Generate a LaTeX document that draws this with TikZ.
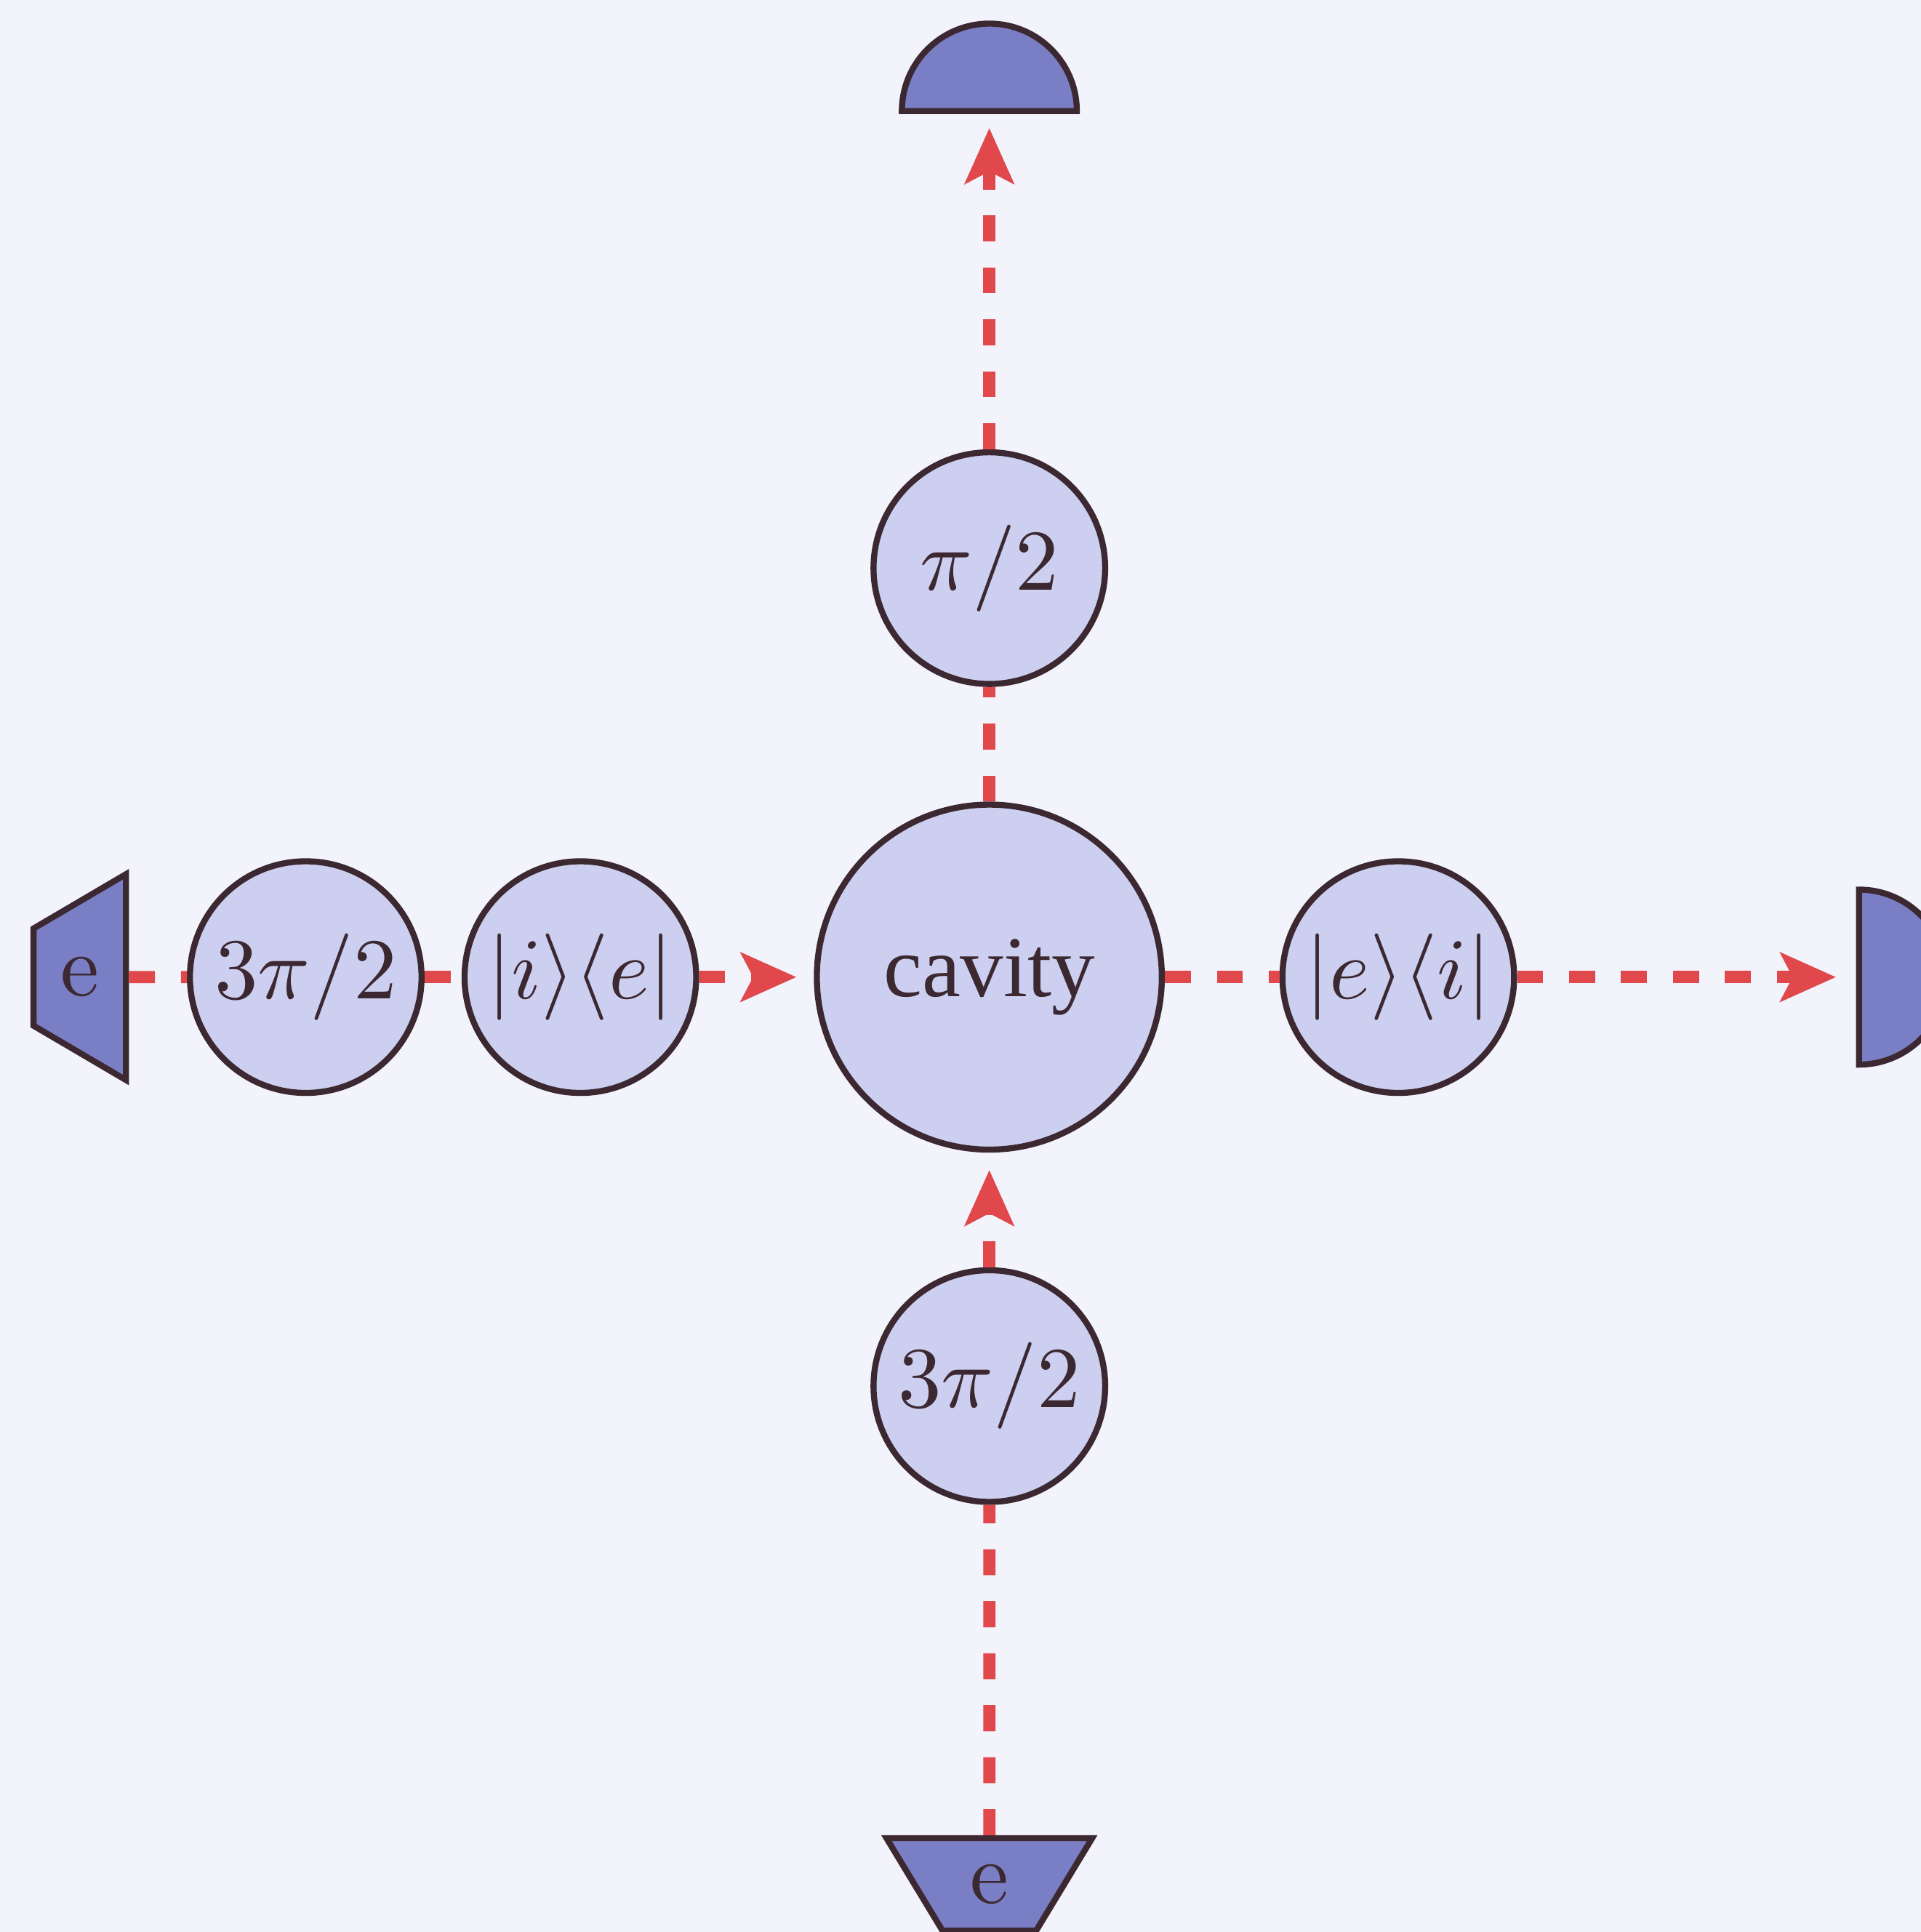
\documentclass[tikz,border=0pt]{standalone}
\usepackage{amsmath}
\usepackage{fontspec}
\usepackage{tikz}
\usetikzlibrary{shapes.geometric, arrows.meta, positioning}

\newfontfamily\labelfont{Liberation Serif}

\definecolor{paper}{RGB}{242,243,251}
\definecolor{gatefill}{RGB}{205,207,241}
\definecolor{boxfill}{RGB}{122,126,196}
\definecolor{rim}{RGB}{60,40,48}
\definecolor{beamred}{RGB}{224,72,76}

\begin{document}
\begin{tikzpicture}[>={Stealth[length=6.4pt,width=5.6pt,inset=1.4pt]},node distance=0.465cm,
  gate/.style={circle,draw=rim,text=rim,fill=gatefill,line width=0.7pt,inner sep=0pt,minimum size=0.94cm}]
\tikzstyle{source} = [trapezium, draw=rim, text=rim, fill=boxfill, line width=0.7pt, inner sep=0pt, trapezium stretches=true, minimum width=0.835cm, minimum height=0.375cm]
\tikzstyle{detector} = [semicircle, draw=rim, fill=boxfill, line width=0.7pt, inner sep=0pt, minimum width=0.71cm, minimum height=0.355cm]
\tikzstyle{beam line} = [draw=beamred, line width=1.4pt, dashed]

% page
\fill[paper] (-4.015,-3.875) rectangle (3.78,3.965);
\useasboundingbox (-4.015,-3.875) rectangle (3.78,3.965);

\node[gate, minimum size=1.4cm] (cavity) at (0,0) {\labelfont cavity};

% atoms come in from the left and from below
\node[gate] (ie) [left=of cavity] {$|i\rangle\langle e|$};
\node[gate] (leftpulse) [left=0.15cm of ie] {$3\pi/2$};
\node[source, shape border rotate=90, left=0.235cm of leftpulse, anchor=bottom side] (leftsrc) {e};
\node[gate] (lowpulse) [below=of cavity] {$3\pi/2$};
\node[source, shape border rotate=180, below=1.34cm of lowpulse, anchor=bottom side] (lowsrc) {e};

% and leave to the right and to the top
\node[gate] (ei) [right=of cavity] {$|e\rangle\langle i|$};
\node[detector, shape border rotate=270, right=1.375cm of ei, anchor=chord center] (rightdet) {};
\node[gate] (toppulse) [above=of cavity] {$\pi/2$};
\node[detector, above=1.36cm of toppulse, anchor=chord center] (topdet) {};

\draw[beam line] (leftsrc) -- (leftpulse);
\draw[beam line] (leftpulse) -- (ie);
\draw[beam line, ->, shorten >=2pt] (ie) -- (cavity);
\draw[beam line] (lowsrc) -- (lowpulse);
\draw[beam line, ->, shorten >=2pt] (lowpulse) -- (cavity);
\draw[beam line] (cavity) -- (ei);
\draw[beam line, ->, shorten >=2.3pt] (ei) -- (rightdet);
\draw[beam line] (cavity) -- (toppulse);
\draw[beam line, ->, shorten >=1.6pt] (toppulse) -- (topdet);

\end{tikzpicture}
\end{document}
